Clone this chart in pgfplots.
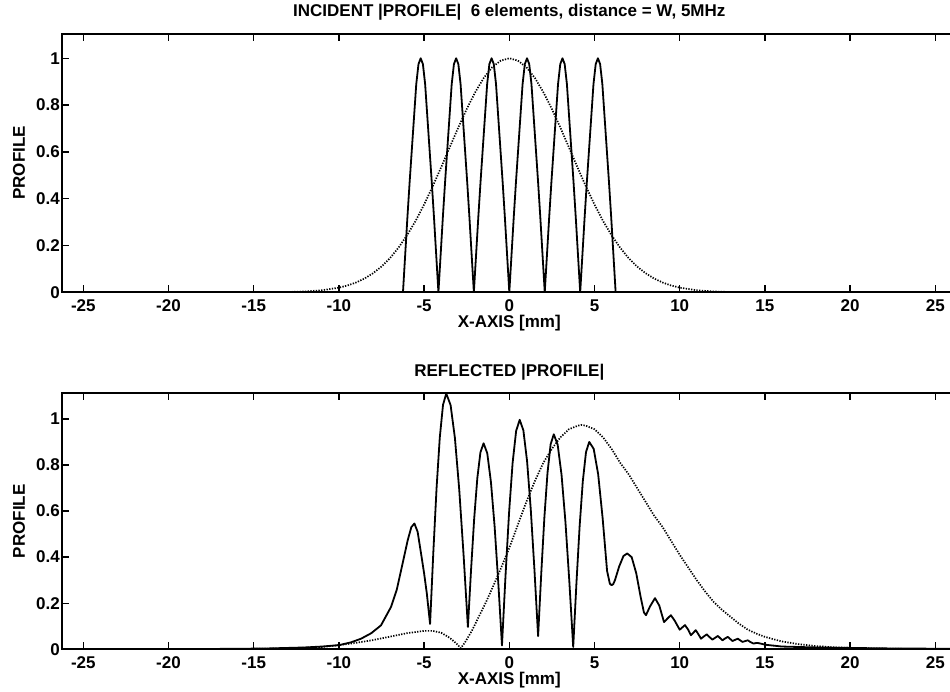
\documentclass[border=0pt]{standalone}
\usepackage{pgfplots}
\pgfplotsset{compat=1.18}
\usepackage{fontspec}
\setmainfont{Liberation Sans}
\newcommand{\lbl}{\bfseries\fontsize{17}{20}\selectfont}
\pgfplotsset{
  profstyle/.style={
    scale only axis,
    width=894.6pt,
    xmin=-26.25, xmax=26.25, ymin=0,
    xtick={-25,-20,-15,-10,-5,0,5,10,15,20,25},
    ytick={0,0.2,0.4,0.6,0.8,1},
    tick align=inside, tick pos=both,
    major tick length=7pt,
    axis line style={line width=1.8pt},
    every tick/.style={black, line width=1.4pt},
    /pgf/number format/assume math mode=true,
    /pgf/number format/fixed,
    /pgf/number format/precision=1,
    tick label style={font=\lbl},
    xticklabel style={anchor=base, yshift=-19.5pt, inner sep=0pt, text depth=0pt},
    yticklabel style={anchor=east, xshift=-2pt, inner sep=0pt},
    xlabel={X-AXIS [mm]},
    ylabel={PROFILE},
    xlabel style={font=\lbl, at={(axis description cs:0.5,0)}, anchor=base, yshift=-35pt, inner sep=0pt, text height=12.2pt},
    ylabel style={font=\lbl, at={(axis description cs:-0.0481,0.5)}, anchor=center, rotate=0},
    title style={font=\lbl, at={(axis description cs:0.5,1)}, anchor=base, yshift=11pt},
    clip=true,
  },
  solidc/.style={black, line width=1.8pt, line join=round},
  dotc/.style={black, line width=1.7pt, dash pattern=on 1.3pt off 1.4pt},
}
\begin{document}
\begin{tikzpicture}
\begin{axis}[profstyle,
  at={(62pt,-292.3pt)}, anchor=south west,
  height=258.6pt, ymax=1.105,
  title={INCIDENT |PROFILE|\ \ 6 elements, distance = W, 5MHz}]
\addplot[dotc] coordinates {
(-26.25,0) (-13,0.0013) (-12,0.0035) (-11,0.0087) (-10,0.0198) (-9.5,0.029) (-9,0.0417)
(-8.5,0.0588) (-8,0.0813) (-7.5,0.110) (-7,0.146) (-6.5,0.191) (-6,0.244) (-5.5,0.305)
(-5,0.375) (-4.5,0.452) (-4,0.534) (-3.5,0.619) (-3,0.703) (-2.5,0.783) (-2,0.855)
(-1.5,0.916) (-1,0.962) (-0.5,0.990) (0,1) (0.5,0.990) (1,0.962) (1.5,0.916) (2,0.855)
(2.5,0.783) (3,0.703) (3.5,0.619) (4,0.534) (4.5,0.452) (5,0.375) (5.5,0.305) (6,0.244)
(6.5,0.191) (7,0.146) (7.5,0.110) (8,0.0813) (8.5,0.0588) (9,0.0417) (9.5,0.029)
(10,0.0198) (11,0.0087) (12,0.0035) (13,0.0013) (26.25,0)
};
\addplot[solidc] coordinates {
(-26.25,0) (-6.24,0) (-6.11,.16) (-5.98,.32) (-5.85,.47) (-5.72,.61) (-5.59,.75) (-5.46,.89) (-5.33,.975) (-5.20,1) (-5.07,.975) (-4.94,.89) (-4.81,.75) (-4.68,.61) (-4.55,.47) (-4.42,.32) (-4.29,.16) (-4.16,0)
(-4.03,.16) (-3.90,.32) (-3.77,.47) (-3.64,.61) (-3.51,.75) (-3.38,.89) (-3.25,.975) (-3.12,1) (-2.99,.975) (-2.86,.89) (-2.73,.75) (-2.60,.61) (-2.47,.47) (-2.34,.32) (-2.21,.16) (-2.08,0)
(-1.95,.16) (-1.82,.32) (-1.69,.47) (-1.56,.61) (-1.43,.75) (-1.30,.89) (-1.17,.975) (-1.04,1) (-0.91,.975) (-0.78,.89) (-0.65,.75) (-0.52,.61) (-0.39,.47) (-0.26,.32) (-0.13,.16) (0,0)
(0.13,.16) (0.26,.32) (0.39,.47) (0.52,.61) (0.65,.75) (0.78,.89) (0.91,.975) (1.04,1) (1.17,.975) (1.30,.89) (1.43,.75) (1.56,.61) (1.69,.47) (1.82,.32) (1.95,.16) (2.08,0)
(2.21,.16) (2.34,.32) (2.47,.47) (2.60,.61) (2.73,.75) (2.86,.89) (2.99,.975) (3.12,1) (3.25,.975) (3.38,.89) (3.51,.75) (3.64,.61) (3.77,.47) (3.90,.32) (4.03,.16) (4.16,0)
(4.29,.16) (4.42,.32) (4.55,.47) (4.68,.61) (4.81,.75) (4.94,.89) (5.07,.975) (5.20,1) (5.33,.975) (5.46,.89) (5.59,.75) (5.72,.61) (5.85,.47) (5.98,.32) (6.11,.16) (6.24,0) (26.25,0)
};
\end{axis}
\begin{axis}[profstyle,
  at={(62pt,-649.3pt)}, anchor=south west,
  height=256pt, ymax=1.111,
  title={REFLECTED |PROFILE|}]
\addplot[dotc] coordinates {
(-26.25,0) (-16,0.001) (-13,0.004) (-11,0.01) (-10,0.018) (-9,0.028) (-8,0.04) (-7,0.055)
(-6,0.07) (-5,0.08) (-4.5,0.08) (-4,0.072) (-3.5,0.05) (-3.1,0.025) (-2.85,0.005)
(-2.6,0.03) (-2.2,0.08) (-1.8,0.14) (-1.4,0.2) (-1.0,0.265) (-0.5,0.35) (0,0.44) (0.5,0.54)
(1.0,0.64) (1.5,0.73) (2.0,0.81) (2.5,0.87) (3.0,0.92) (3.5,0.955) (4.0,0.97) (4.24,0.974)
(4.5,0.97) (5,0.955) (5.5,0.92) (6,0.87) (6.5,0.81) (7,0.76) (7.5,0.70) (8,0.64) (8.5,0.58)
(9,0.53) (9.5,0.47) (10,0.41) (10.5,0.355) (11,0.30) (11.5,0.25) (12,0.205) (12.5,0.17)
(13,0.14) (13.5,0.11) (14,0.085) (14.5,0.068) (15,0.054) (16,0.034) (17,0.022) (18,0.014)
(19,0.009) (20,0.006) (22,0.003) (24,0.001) (26.25,0)
};
\addplot[solidc] coordinates {
(-26.25,0) (-20,0.001) (-16,0.002) (-14,0.004) (-12,0.008) (-11,0.012) (-10,0.018)
(-9.3,0.03) (-8.7,0.046) (-8.1,0.07) (-7.53,0.104) (-6.94,0.184) (-6.6,0.26) (-6.35,0.343)
(-5.96,0.474) (-5.75,0.53) (-5.57,0.546) (-5.38,0.51) (-5.18,0.416) (-5.0,0.33) (-4.84,0.242) (-4.65,0.11)
(-4.46,0.419) (-4.27,0.698) (-4.08,0.919) (-3.89,1.061) (-3.7,1.11) (-3.446,1.060) (-3.192,0.917) (-2.938,0.693) (-2.684,0.410) (-2.43,0.097)
(-2.246,0.343) (-2.062,0.566) (-1.878,0.742) (-1.694,0.855) (-1.51,0.894) (-1.294,0.851) (-1.078,0.726) (-0.862,0.533) (-0.646,0.288) (-0.43,0.017)
(-0.222,0.320) (-0.014,0.593) (0.194,0.809) (0.402,0.948) (0.61,0.996) (0.826,0.950) (1.042,0.817) (1.258,0.609) (1.474,0.347) (1.69,0.057)
(1.874,0.328) (2.058,0.572) (2.242,0.766) (2.426,0.890) (2.61,0.933) (2.838,0.888) (3.066,0.757) (3.294,0.553) (3.522,0.295) (3.75,0.01)
(3.938,0.285) (4.126,0.533) (4.314,0.730) (4.502,0.856) (4.69,0.90) (4.952,0.87) (5.214,0.76) (5.476,0.57) (5.738,0.34) (5.9,0.285) (6.0,0.278) (6.1,0.283)
(6.2,0.30) (6.45,0.36) (6.7,0.405) (6.92,0.416) (7.18,0.40) (7.45,0.33) (7.7,0.23) (7.9,0.16) (8.02,0.148)
(8.25,0.185) (8.55,0.222) (8.8,0.19) (9.08,0.118) (9.3,0.135) (9.48,0.148) (9.7,0.125) (10.0,0.085)
(10.15,0.095) (10.31,0.105) (10.5,0.085) (10.66,0.061) (10.8,0.072) (10.94,0.083) (11.1,0.065) (11.25,0.046)
(11.42,0.056) (11.59,0.065) (11.75,0.053) (11.92,0.042) (12.08,0.05) (12.24,0.058) (12.38,0.048) (12.51,0.039)
(12.66,0.047) (12.82,0.054) (12.96,0.045) (13.1,0.036) (13.25,0.041) (13.41,0.046) (13.55,0.039) (13.69,0.032)
(13.85,0.036) (14.0,0.039) (14.16,0.031) (14.33,0.025) (14.47,0.027) (14.6,0.027) (14.8,0.024) (15.0,0.02)
(16,0.012) (18,0.008) (20,0.006) (22,0.004) (26.25,0.002)
};
\end{axis}
\pgfresetboundingbox
\useasboundingbox (0,0) rectangle (950pt,-692pt);
\end{tikzpicture}
\end{document}
